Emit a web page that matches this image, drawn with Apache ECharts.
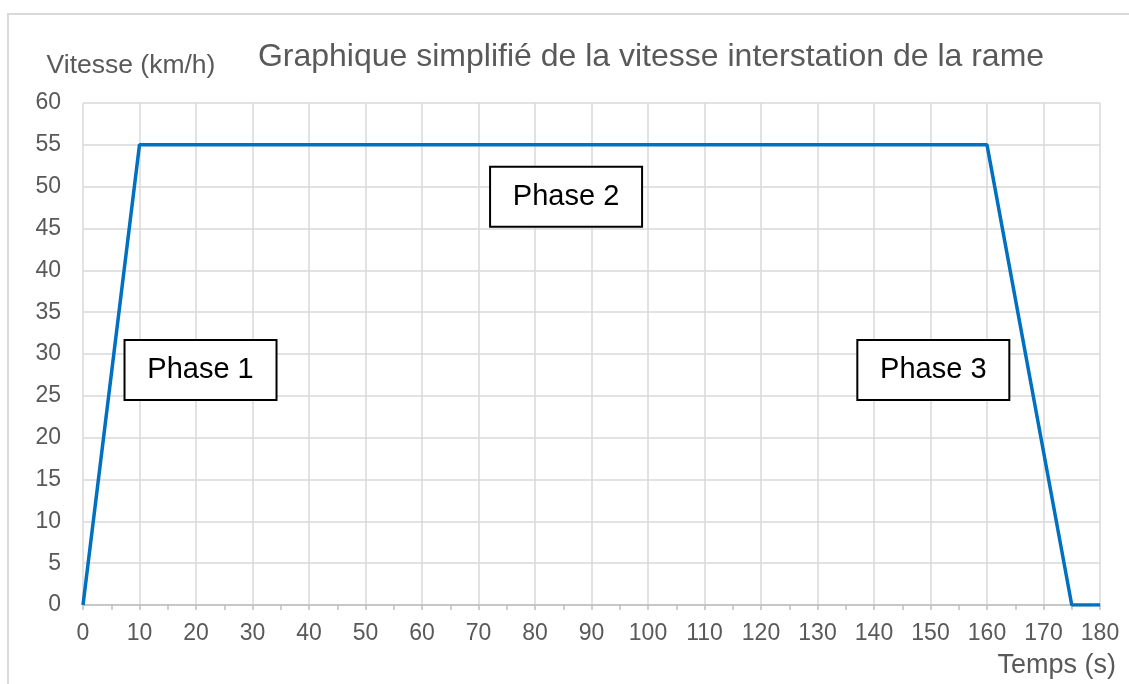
<!DOCTYPE html>
<html><head><meta charset="utf-8">
<script src="https://cdn.jsdelivr.net/npm/echarts@6/dist/echarts.min.js"></script>
<style>html,body{margin:0;padding:0;background:#fff}#c{width:1129px;height:684px}</style>
</head><body><div id="c"></div>
<script>
const timeS = [0, 10, 160, 175, 180];
const speedKmh = [0, 55, 55, 0, 0];
const xTicks = {min: 0, max: 180, interval: 10};
const yTicks = {min: 0, max: 60, interval: 5};
const titleText = 'Graphique simplifié de la vitesse interstation de la rame';
const yName = 'Vitesse (km/h)';
const xName = 'Temps (s)';
const phaseLabels = ['Phase 1', 'Phase 2', 'Phase 3'];
const phaseAnchors = [[20.8, 28.1], [85.5, 48.8], [150.5, 28.1]];

const FONT = '"Liberation Sans", Arial, sans-serif';
const chart = echarts.init(document.getElementById('c'), null, {renderer: 'canvas'});
const option = {
  animation: false,
  backgroundColor: '#fff',
  grid: {left: 83, top: 103, right: 29, bottom: 79, containLabel: false},
  xAxis: {
    type: 'value', min: xTicks.min, max: xTicks.max, interval: xTicks.interval,
    axisLine: {show: true, lineStyle: {color: '#bfbfbf', width: 1.5}},
    axisTick: {show: true, length: 5, inside: false, lineStyle: {color: '#bfbfbf', width: 1.5}},
    minorTick: {show: true, splitNumber: 2, length: 5, lineStyle: {color: '#bfbfbf', width: 1.5}},
    splitLine: {show: true, lineStyle: {color: '#d9d9d9', width: 1.5}},
    axisLabel: {color: '#595959', fontSize: 23, fontFamily: FONT, margin: 17, showMaxLabel: true, showMinLabel: true}
  },
  yAxis: {
    type: 'value', min: yTicks.min, max: yTicks.max, interval: yTicks.interval,
    axisLine: {show: false}, axisTick: {show: false},
    splitLine: {show: true, lineStyle: {color: '#d9d9d9', width: 1.5}},
    axisLabel: {color: '#595959', fontSize: 23, fontFamily: FONT, margin: 22}
  },
  series: [{
    type: 'line', data: timeS.map((t, i) => [t, speedKmh[i]]),
    showSymbol: false, symbol: 'none',
    lineStyle: {color: '#0070C0', width: 3.5}, z: 5
  }],
  graphic: []
};
chart.setOption(option);

const g = [
  {type: 'rect', shape: {x: 8, y: 14, width: 1300, height: 800}, style: {fill: 'none', stroke: '#d9d9d9', lineWidth: 2}, silent: true, z: 0},
  {type: 'text', x: 651, y: 57, style: {text: titleText, fill: '#595959', font: '32px ' + FONT, textAlign: 'center', textVerticalAlign: 'middle'}},
  {type: 'text', x: 131, y: 66, style: {text: yName, fill: '#595959', font: '26.5px ' + FONT, textAlign: 'center', textVerticalAlign: 'middle'}},
  {type: 'text', x: 1116, y: 666, style: {text: xName, fill: '#595959', font: '27px ' + FONT, textAlign: 'right', textVerticalAlign: 'middle'}}
];
phaseLabels.forEach((lab, i) => {
  const p = chart.convertToPixel({gridIndex: 0}, phaseAnchors[i]);
  g.push({type: 'rect', z: 10, shape: {x: p[0] - 76, y: p[1] - 30, width: 152, height: 60},
    style: {fill: '#fff', stroke: '#000', lineWidth: 2}});
  g.push({type: 'text', z: 11, x: p[0], y: p[1], style: {text: lab, fill: '#000', font: '29px ' + FONT, textAlign: 'center', textVerticalAlign: 'middle'}});
});
chart.setOption({graphic: g});
</script></body></html>
